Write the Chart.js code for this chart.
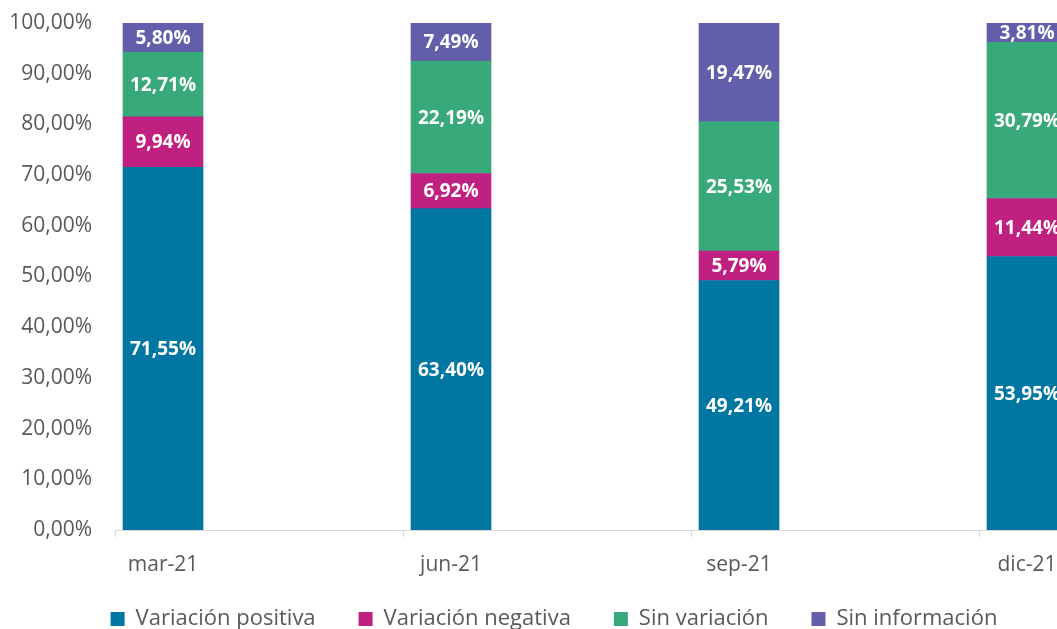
<!DOCTYPE html>
<html>
<head>
<meta charset="utf-8">
<script src="https://cdn.jsdelivr.net/npm/chart.js@4"></script>
<style>
    html, body { margin: 0; padding: 0; background: #fff; overflow: hidden; }
    #wrap { width: 1057px; height: 629px; overflow: hidden; position: relative; }
    #box { width: 1108px; height: 629px; }
</style>
</head>
<body>
<div id="wrap"><div id="box"><canvas id="chart"></canvas></div></div>
<script>
    // Chart data
    const categories = ["mar-21", "jun-21", "sep-21", "dic-21"];
    const variacionPositiva = [71.55, 63.40, 49.21, 53.95];
    const variacionNegativa = [9.94, 6.92, 5.79, 11.44];
    const sinVariacion = [12.71, 22.19, 25.53, 30.79];
    const sinInformacion = [5.80, 7.49, 19.47, 3.81];
    const yTicks = [0, 10, 20, 30, 40, 50, 60, 70, 80, 90, 100];

    const fmt = v => v.toFixed(2).replace('.', ',') + '%';
    const toPoints = arr => arr.map((v, i) => ({ x: i, y: v }));

    // white labels in the middle of each segment
    const segmentLabels = {
        id: 'segmentLabels',
        afterDatasetsDraw(chart) {
            const ctx = chart.ctx;
            ctx.save();
            ctx.fillStyle = '#ffffff';
            ctx.font = 'bold 19px "Open Sans"';
            ctx.textAlign = 'center';
            ctx.textBaseline = 'middle';
            chart.data.datasets.forEach((ds, di) => {
                chart.getDatasetMeta(di).data.forEach((bar, i) => {
                    const yMid = (bar.y + bar.base) / 2;
                    ctx.fillText(fmt(ds.data[i].y), bar.x, yMid + 1);
                });
            });
            ctx.restore();
        }
    };

    // category boundary tick marks under the x axis,
    // and let the x labels run past the axis box (legend sits close below)
    const boundaryTicks = {
        id: 'boundaryTicks',
        afterLayout(chart) {
            chart.scales.x.bottom = chart.height;
        },
        afterDraw(chart) {
            const x = chart.scales.x;
            const ctx = chart.ctx;
            ctx.save();
            ctx.strokeStyle = '#d9d9d9';
            ctx.lineWidth = 1;
            categories.forEach((c, i) => {
                const px = Math.round(x.getPixelForValue(i - 1 / 6)) + 0.5;
                ctx.beginPath();
                ctx.moveTo(px, x.top);
                ctx.lineTo(px, x.top + 7);
                ctx.stroke();
            });
            ctx.restore();
        }
    };

    const ctx = document.getElementById('chart').getContext('2d');
    new Chart(ctx, {
        type: 'bar',
        data: {
            datasets: [
                { label: 'Variación positiva', data: toPoints(variacionPositiva), backgroundColor: '#0076a3' },
                { label: 'Variación negativa', data: toPoints(variacionNegativa), backgroundColor: '#c0207f' },
                { label: 'Sin variación', data: toPoints(sinVariacion), backgroundColor: '#38a97a' },
                { label: 'Sin información', data: toPoints(sinInformacion), backgroundColor: '#635ea9' }
            ]
        },
        options: {
            responsive: true,
            maintainAspectRatio: false,
            animation: false,
            barThickness: 80,
            borderWidth: 0,
            layout: { padding: { top: 23, left: 0, right: 0, bottom: -11 } },
            plugins: {
                tooltip: { enabled: false },
                legend: {
                    position: 'bottom',
                    labels: {
                        color: '#595959',
                        font: { family: '"Open Sans"', size: 22 },
                        boxWidth: 14,
                        boxHeight: 14,
                        padding: 43
                    }
                }
            },
            scales: {
                x: {
                    type: 'linear',
                    stacked: true,
                    offset: false,
                    min: -1 / 6,
                    max: -1 / 6 + 993 / 288,
                    grid: { display: false, offset: false },
                    border: { display: true, color: '#d9d9d9', width: 1 },
                    afterBuildTicks: scale => { scale.ticks = categories.map((c, i) => ({ value: i })); },
                    afterFit: scale => { scale.height = 35; },
                    ticks: {
                        color: '#595959',
                        font: { family: '"Open Sans"', size: 21 },
                        padding: 14,
                        maxRotation: 0,
                        autoSkip: false,
                        callback: v => categories[v] ?? ''
                    }
                },
                y: {
                    stacked: true,
                    min: 0,
                    max: 100,
                    grid: { display: false, drawTicks: false },
                    border: { display: false },
                    afterBuildTicks: scale => { scale.ticks = yTicks.map(v => ({ value: v })); },
                    afterFit: scale => {
                        scale.width = 115;
                        scale.paddingTop = 0;
                        scale.paddingBottom = 0;
                    },
                    ticks: {
                        color: '#595959',
                        font: { family: '"Open Sans"', size: 21 },
                        padding: 23,
                        callback: v => fmt(v)
                    }
                }
            }
        },
        plugins: [segmentLabels, boundaryTicks]
    });
</script>
</body>
</html>
